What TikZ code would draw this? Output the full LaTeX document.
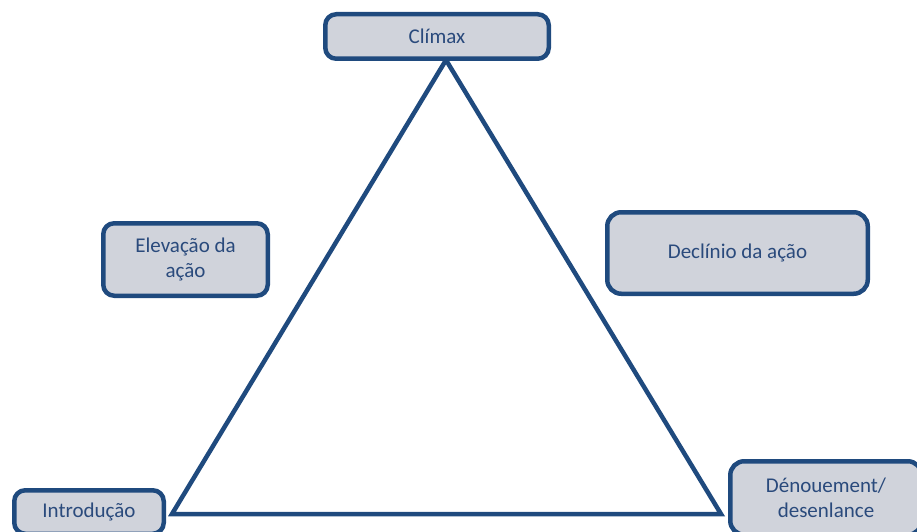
\documentclass[tikz,border=0pt]{standalone}
\usepackage{fontspec}
\setmainfont{Carlito}
\definecolor{frame}{HTML}{1F4A7E}
\definecolor{boxfill}{HTML}{D0D3DB}
\definecolor{label}{HTML}{2A4A7C}
\begin{document}
\begin{tikzpicture}[x=1pt,y=-1pt,
  stage/.style={draw=frame, fill=boxfill, line width=4.5pt, rounded corners=11pt,
    text=label, font=\fontsize{21}{24.5}\selectfont, align=center,
    inner sep=0pt, outer sep=0pt},
  plot/.style={draw=frame, line width=4.5pt, line join=miter}]
  \useasboundingbox (0,0) rectangle (917,532);
  \clip (0,0) rectangle (917,532);
  % triangle of the dramatic arc
  \coordinate (top) at (446,60);
  \coordinate (left) at (172,514);
  \coordinate (right) at (721,514);
  \draw[plot] (left) -- (top) -- (right) -- cycle;
  % stage boxes
  \node[stage, minimum width=223.5pt, minimum height=44.5pt] (climax) at (437,36.5) {Clímax};
  \node[stage, minimum width=164.5pt, minimum height=72.5pt] (rise) at (185.5,259.5) {Elevação da\\ação};
  \node[stage, minimum width=260.5pt, minimum height=81.5pt, rounded corners=14pt] (fall) at (737.5,253) {Declínio da ação};
  \node[stage, minimum width=149.5pt, minimum height=43.5pt] (intro) at (89,512) {Introdução};
  \node[stage, minimum width=191.5pt, minimum height=73.5pt, rounded corners=14pt] (end) at (826,498) {Dénouement/\\desenlance};
\end{tikzpicture}
\end{document}
